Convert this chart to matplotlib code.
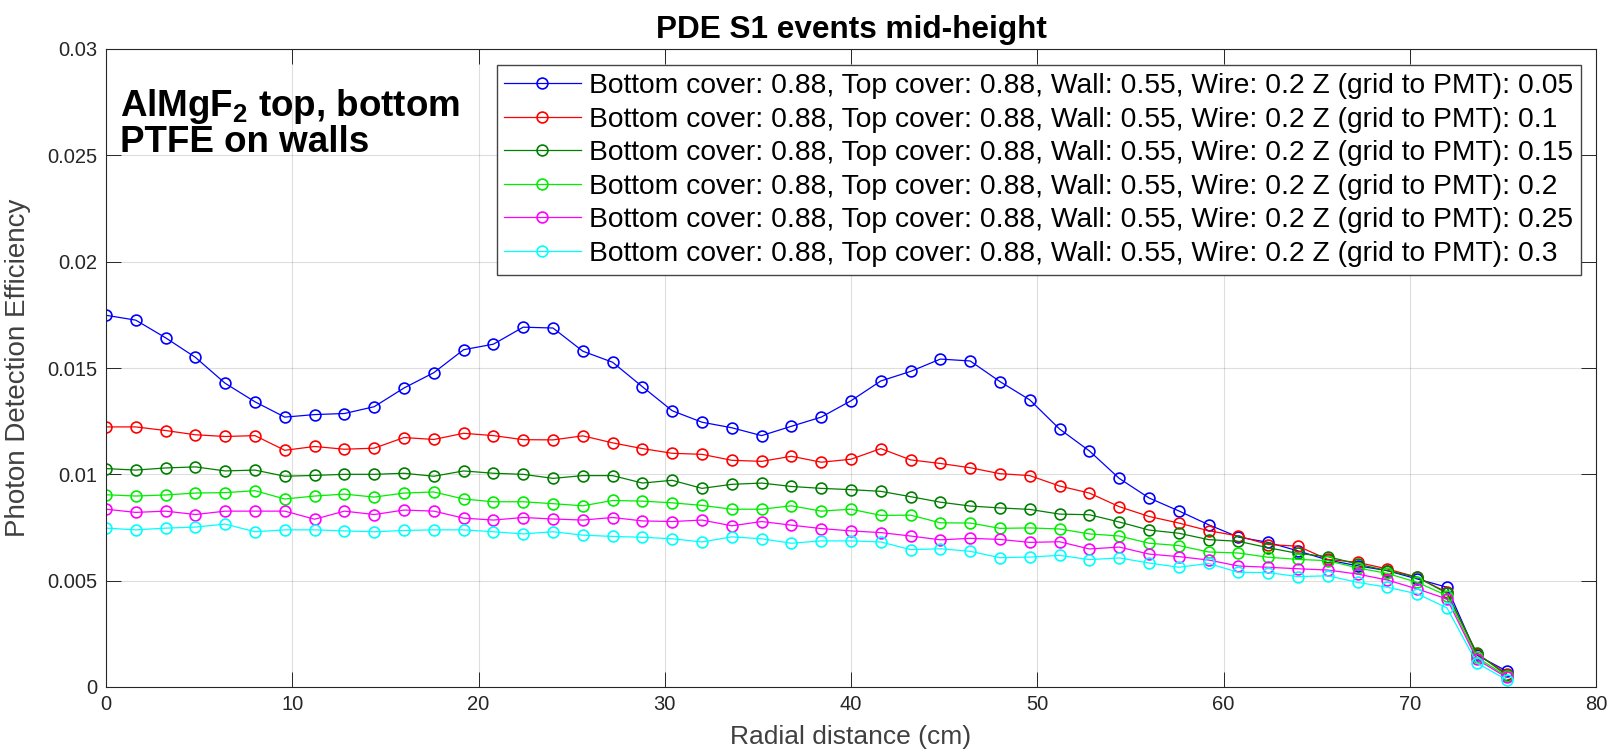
import matplotlib
matplotlib.use("Agg")
import matplotlib.pyplot as plt

plt.rcParams['font.family'] = ['Liberation Sans', 'DejaVu Sans']
plt.rcParams['mathtext.fontset'] = 'custom'
plt.rcParams['mathtext.rm'] = 'Liberation Sans:bold'
plt.rcParams['mathtext.bf'] = 'Liberation Sans:bold'

# radial positions (cm)
radius = [0.0, 1.6, 3.2, 4.8, 6.4, 8.0, 9.6, 11.2, 12.8, 14.4, 16.0, 17.6,
          19.2, 20.8, 22.4, 24.0, 25.6, 27.2, 28.8, 30.4, 32.0, 33.6, 35.2, 36.8,
          38.4, 40.0, 41.6, 43.2, 44.8, 46.4, 48.0, 49.6, 51.2, 52.8, 54.4, 56.0,
          57.6, 59.2, 60.8, 62.4, 64.0, 65.6, 67.2, 68.8, 70.4, 72.0, 73.6, 75.2]

# PDE for each grid-to-PMT distance
pde_005 = [0.01748, 0.01725, 0.01642, 0.0155, 0.01428, 0.01341, 0.01269, 0.01281,
           0.01286, 0.01318, 0.01406, 0.01478, 0.01586, 0.01612, 0.01692, 0.01688,
           0.01579, 0.01527, 0.01412, 0.01299, 0.01245, 0.01219, 0.01182, 0.01226,
           0.01269, 0.01346, 0.01439, 0.01484, 0.01542, 0.01533, 0.01436, 0.0135,
           0.01213, 0.0111, 0.00981, 0.00889, 0.00828, 0.00763, 0.00705, 0.0068,
           0.0064, 0.00597, 0.0057, 0.00547, 0.00508, 0.00469, 0.0015, 0.00075]
pde_010 = [0.01223, 0.01223, 0.01206, 0.01186, 0.01178, 0.01182, 0.01113, 0.01131,
           0.01118, 0.01123, 0.01173, 0.01164, 0.01193, 0.01182, 0.01163, 0.01162,
           0.01181, 0.01148, 0.01121, 0.01099, 0.01094, 0.01066, 0.01061, 0.01085,
           0.01057, 0.01071, 0.01121, 0.01068, 0.01051, 0.01031, 0.01003, 0.00994,
           0.00945, 0.00912, 0.00848, 0.00802, 0.00771, 0.00735, 0.0071, 0.0067,
           0.00662, 0.0060, 0.00586, 0.00555, 0.00516, 0.00445, 0.00155, 0.00063]
pde_015 = [0.01027, 0.0102, 0.0103, 0.01035, 0.01016, 0.0102, 0.00991, 0.00995,
           0.0100, 0.0100, 0.01005, 0.00991, 0.01016, 0.01005, 0.0100, 0.00981,
           0.00994, 0.00994, 0.00959, 0.00972, 0.00934, 0.00953, 0.00959, 0.00943,
           0.00934, 0.00928, 0.0092, 0.00895, 0.00869, 0.00851, 0.00842, 0.00835,
           0.00813, 0.0081, 0.00776, 0.00738, 0.00723, 0.00693, 0.00685, 0.00655,
           0.00628, 0.00613, 0.00578, 0.00547, 0.00516, 0.00441, 0.0016, 0.00055]
pde_020 = [0.00904, 0.00898, 0.00903, 0.00912, 0.00914, 0.00923, 0.00884, 0.00898,
           0.00907, 0.00893, 0.00912, 0.00917, 0.00884, 0.00871, 0.00871, 0.00862,
           0.00852, 0.00877, 0.00874, 0.00866, 0.00854, 0.00836, 0.00836, 0.00852,
           0.00827, 0.00836, 0.00807, 0.00808, 0.00772, 0.00771, 0.00746, 0.00748,
           0.00743, 0.0072, 0.0071, 0.00676, 0.00665, 0.00635, 0.0063, 0.0061,
           0.0060, 0.00594, 0.0056, 0.00534, 0.00492, 0.0043, 0.0014, 0.0005]
pde_025 = [0.00836, 0.00821, 0.00827, 0.00811, 0.00827, 0.00827, 0.00827, 0.00789,
           0.00827, 0.00811, 0.00832, 0.00827, 0.00794, 0.00785, 0.00797, 0.0079,
           0.00785, 0.00797, 0.00781, 0.00778, 0.00785, 0.00758, 0.00778, 0.00761,
           0.00745, 0.00734, 0.00726, 0.0071, 0.00692, 0.00699, 0.00694, 0.0068,
           0.00683, 0.00649, 0.00658, 0.00625, 0.00613, 0.00597, 0.00569, 0.00563,
           0.00556, 0.0055, 0.00531, 0.00503, 0.00461, 0.00414, 0.0013, 0.00045]
pde_030 = [0.00747, 0.00739, 0.00747, 0.00752, 0.00766, 0.0073, 0.00739, 0.00739,
           0.00734, 0.0073, 0.00736, 0.00739, 0.00739, 0.0073, 0.0072, 0.0073,
           0.00714, 0.00708, 0.00704, 0.00697, 0.00682, 0.00706, 0.00697, 0.00676,
           0.00687, 0.00687, 0.00682, 0.00646, 0.0065, 0.00638, 0.00608, 0.00611,
           0.00619, 0.00599, 0.00607, 0.00583, 0.00563, 0.00581, 0.00539, 0.00538,
           0.00519, 0.00523, 0.00492, 0.00469, 0.00438, 0.00372, 0.00113, 0.00034]

z_values = ['0.05', '0.1', '0.15', '0.2', '0.25', '0.3']
series = [pde_005, pde_010, pde_015, pde_020, pde_025, pde_030]
colors = ['#0000ff', '#ff0000', '#007f00', '#00ee00', '#ff00ff', '#00ffff']

xticks = [0, 10, 20, 30, 40, 50, 60, 70, 80]
yticks = [0, 0.005, 0.01, 0.015, 0.02, 0.025, 0.03]
ytick_labels = ['0', '0.005', '0.01', '0.015', '0.02', '0.025', '0.03']

W, H = 1610, 753
fig = plt.figure(figsize=(W / 100, H / 100), dpi=100)
ax = fig.add_axes([106 / W, 1 - 687 / H, (1596 - 106) / W, (687 - 49) / H])

for z, vals, c in zip(z_values, series, colors):
    label = ('Bottom cover: 0.88, Top cover: 0.88, Wall: 0.55, Wire: 0.2 '
             'Z (grid to PMT): ' + z)
    ax.plot(radius, vals, '-o', color=c, lw=0.9, ms=7.8, mfc='none',
            mew=1.2, label=label)

ax.set_xlim(0, 80)
ax.set_ylim(0, 0.03)
ax.set_xticks(xticks)
ax.set_yticks(yticks)
ax.set_yticklabels(ytick_labels)
ax.grid(True, color='#262626', alpha=0.15, lw=0.8)
ax.tick_params(direction='in', length=10.5, width=0.7, colors='#262626',
               labelsize=14.5, top=True, right=True, pad=6)
for s in ax.spines.values():
    s.set_color('#262626')
    s.set_linewidth(0.8)

ax.set_xlabel('Radial distance (cm)', fontsize=19, color='#404040', labelpad=8)
ax.set_ylabel('Photon Detection Efficiency', fontsize=20, color='#404040', labelpad=12)
ax.set_title('PDE S1 events mid-height', fontsize=22.7, fontweight='bold', pad=8)

leg = ax.legend(loc='upper right', bbox_to_anchor=(1581 / W, 1 - 65 / H),
                bbox_transform=fig.transFigure, borderaxespad=0,
                fontsize=20.3, handlelength=2.7, handletextpad=0.3,
                borderpad=0.28, labelspacing=0.27, fancybox=False,
                framealpha=1, edgecolor='#444444')
leg.get_frame().set_linewidth(1.0)

fig.text(120 / W, 1 - 106 / H, r'AlMgF$_\mathbf{2}$ top, bottom', fontsize=26.5,
         fontweight='bold', va='center', ha='left')
fig.text(120 / W, 1 - 143 / H, 'PTFE on walls', fontsize=26.5,
         fontweight='bold', va='center', ha='left')

fig.savefig('out.png', dpi=100)
